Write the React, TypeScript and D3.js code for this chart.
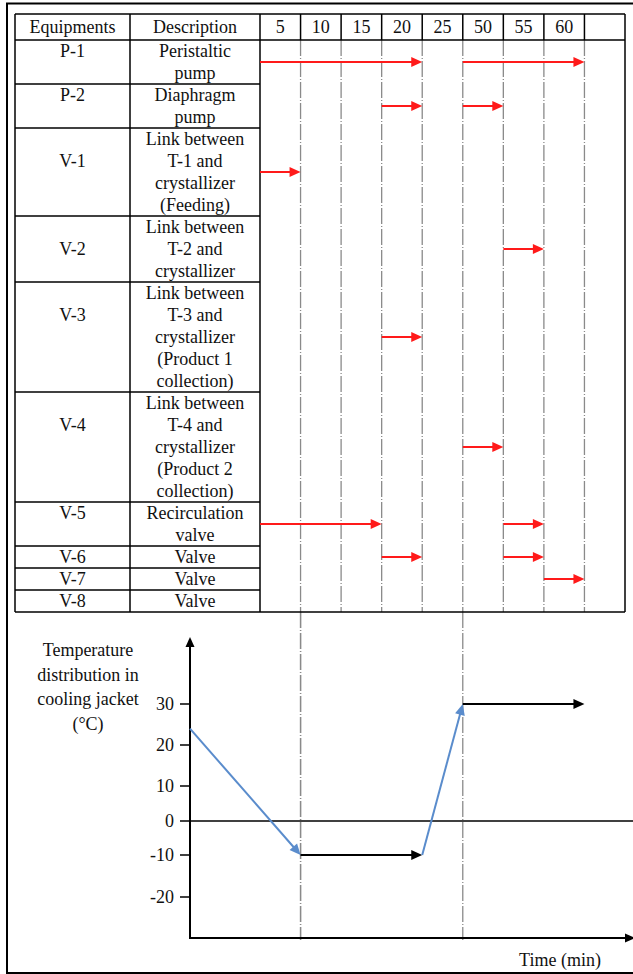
import React from "react";
import * as d3 from "d3";

// ---------- data ----------
const timeLabels = ["5", "10", "15", "20", "25", "50", "55", "60", ""];
const headerLabels = ["Equipments", "Description"];
const equipments = ["P-1", "P-2", "V-1", "V-2", "V-3", "V-4", "V-5", "V-6", "V-7", "V-8"];
const descriptions = [
  ["Peristaltic", "pump"],
  ["Diaphragm", "pump"],
  ["Link between", "T-1 and", "crystallizer", "(Feeding)"],
  ["Link between", "T-2 and", "crystallizer"],
  ["Link between", "T-3 and", "crystallizer", "(Product 1", "collection)"],
  ["Link between", "T-4 and", "crystallizer", "(Product 2", "collection)"],
  ["Recirculation", "valve"],
  ["Valve"],
  ["Valve"],
  ["Valve"],
];
// operating periods: from the start of column `from` to the end of column `to`
const operations = [
  { eq: "P-1", from: "5", to: "20" },
  { eq: "P-1", from: "50", to: "60" },
  { eq: "P-2", from: "20", to: "20" },
  { eq: "P-2", from: "50", to: "50" },
  { eq: "V-1", from: "5", to: "5" },
  { eq: "V-2", from: "55", to: "55" },
  { eq: "V-3", from: "20", to: "20" },
  { eq: "V-4", from: "50", to: "50" },
  { eq: "V-5", from: "5", to: "15" },
  { eq: "V-5", from: "55", to: "55" },
  { eq: "V-6", from: "20", to: "20" },
  { eq: "V-6", from: "55", to: "55" },
  { eq: "V-7", from: "60", to: "60" },
];
const tempTicks = [30, 20, 10, 0, -10, -20];
// temperature profile segments: start (null = at the axis) and end column boundaries
const tempProfile = [
  { from: null, to: "5", t0: 24, t1: -10, kind: "ramp" },
  { from: "5", to: "20", t0: -10, t1: -10, kind: "hold" },
  { from: "20", to: "25", t0: -10, t1: 30, kind: "ramp" },
  { from: "25", to: "60", t0: 30, t1: 30, kind: "hold" },
];
const yLabelLines = ["Temperature", "distribution in", "cooling jacket", "(°C)"];
const xTitle = "Time (min)";

// ---------- layout ----------
const W = 633;
const H = 974;
const tableLeft = 15;
const col1 = 130;
const col2 = 260;
const tableRight = 625;
const headerTop = 14;
const headerBottom = 40;
const lineH = 22;
const axisX = 190;
const axisBottom = 938;
const axisTop = 637;
const FONT = "'Liberation Serif', 'Times New Roman', serif";
const RED = "#ff1a1a";
const BLUE = "#5a8ccc";
const GRID = "#8a8a8a";

function arrow(x1: number, y1: number, x2: number, y2: number, len: number, hw: number) {
  const dx = x2 - x1;
  const dy = y2 - y1;
  const L = Math.hypot(dx, dy);
  const ux = dx / L;
  const uy = dy / L;
  const bx = x2 - ux * len;
  const by = y2 - uy * len;
  const px = -uy;
  const py = ux;
  const pts = [
    [x2, y2],
    [bx + px * hw, by + py * hw],
    [bx - px * hw, by - py * hw],
  ];
  return { lx: bx + ux * 1, ly: by + uy * 1, poly: pts.map((p) => p.join(",")).join(" ") };
}

export default function App() {
  const x = d3.scaleBand<string>().domain(timeLabels).range([col2, tableRight]).paddingInner(0).paddingOuter(0);
  const bw = x.bandwidth();
  const colStart = (l: string) => x(l) as number;
  const colEnd = (l: string) => (x(l) as number) + bw;

  // row layout
  const rowTops: number[] = [];
  let acc = headerBottom;
  descriptions.forEach((d) => {
    rowTops.push(acc);
    acc += d.length * lineH;
  });
  const tableBottom = acc;
  const rowIndex = (eq: string) => equipments.indexOf(eq);
  const rowMid = (i: number) => rowTops[i] + (descriptions[i].length * lineH) / 2;

  const y = d3
    .scaleLinear()
    .domain([-20, -10, 0, 10, 20, 30])
    .range([897, 855, 821, 786, 745, 704]);

  const textProps = { fontFamily: FONT, fontSize: 18, fill: "#111" };

  const chartDashX = tempProfile.filter((s) => s.kind === "ramp").map((s) => colEnd(s.to));

  return (
    <svg
      width={W}
      height={H}
      style={{ position: "fixed", left: 0, top: 0, background: "#fff" }}
      viewBox={`0 0 ${W} ${H}`}
    >
      <rect x={0} y={0} width={W} height={H} fill="#fff" />
      {/* outer frame */}
      <rect x={7} y={3.5} width={W + 20} height={969.5} fill="none" stroke="#000" strokeWidth={2} />

      {/* table grid: dashed time dividers */}
      {timeLabels.slice(1).map((l) => (
        <line
          key={"td" + l}
          x1={colStart(l)}
          x2={colStart(l)}
          y1={headerBottom}
          y2={tableBottom}
          stroke={GRID}
          strokeWidth={1.3}
          strokeDasharray="16,2,1,2"
        />
      ))}
      {/* dashed lines into chart */}
      {chartDashX.concat([colEnd("5")]).map((xx, i) => (
        <line
          key={"cd" + i}
          x1={xx}
          x2={xx}
          y1={tableBottom}
          y2={axisBottom + 2}
          stroke={GRID}
          strokeWidth={1.3}
          strokeDasharray="16,2,1,2"
        />
      ))}

      {/* header */}
      <line x1={tableLeft} x2={tableRight} y1={headerTop} y2={headerTop} stroke="#000" strokeWidth={1.5} />
      <line x1={tableLeft} x2={tableRight} y1={headerBottom} y2={headerBottom} stroke="#000" strokeWidth={1.5} />
      {timeLabels.slice(1).map((l) => (
        <line key={"hd" + l} x1={colStart(l)} x2={colStart(l)} y1={headerTop} y2={headerBottom} stroke="#000" strokeWidth={1.5} />
      ))}
      <text x={(tableLeft + col1) / 2} y={(headerTop + headerBottom) / 2 + 6} textAnchor="middle" {...textProps}>
        {headerLabels[0]}
      </text>
      <text x={(col1 + col2) / 2} y={(headerTop + headerBottom) / 2 + 6} textAnchor="middle" {...textProps}>
        {headerLabels[1]}
      </text>
      {timeLabels.map((l) => (
        <text key={"h" + l} x={colStart(l) + bw / 2} y={(headerTop + headerBottom) / 2 + 6} textAnchor="middle" {...textProps}>
          {l}
        </text>
      ))}

      {/* table outer & column borders */}
      {[tableLeft, col1, col2, tableRight].map((xx) => (
        <line key={"vb" + xx} x1={xx} x2={xx} y1={headerTop} y2={tableBottom} stroke="#000" strokeWidth={1.5} />
      ))}
      <line x1={tableLeft} x2={tableRight} y1={tableBottom} y2={tableBottom} stroke="#000" strokeWidth={1.5} />
      {rowTops.slice(1).map((t, i) => (
        <line key={"rl" + i} x1={tableLeft} x2={col2} y1={t} y2={t} stroke="#000" strokeWidth={1.5} />
      ))}

      {/* row texts */}
      {equipments.map((eq, i) => {
        const lines = descriptions[i];
        const labelLine = lines.length >= 3 ? 1 : 0;
        return (
          <g key={"row" + eq}>
            <text x={(tableLeft + col1) / 2} y={rowTops[i] + labelLine * lineH + lineH / 2 + 6} textAnchor="middle" {...textProps}>
              {eq}
            </text>
            {lines.map((ln, j) => (
              <text key={j} x={(col1 + col2) / 2} y={rowTops[i] + j * lineH + lineH / 2 + 6} textAnchor="middle" {...textProps}>
                {ln}
              </text>
            ))}
          </g>
        );
      })}

      {/* operation arrows */}
      {operations.map((op, k) => {
        const i = rowIndex(op.eq);
        const yy = rowMid(i);
        const x1 = colStart(op.from);
        const x2 = colEnd(op.to);
        const a = arrow(x1, yy, x2, yy, 11, 5);
        return (
          <g key={"op" + k}>
            <line x1={x1} x2={a.lx} y1={yy} y2={yy} stroke={RED} strokeWidth={2} />
            <polygon points={a.poly} fill={RED} />
          </g>
        );
      })}

      {/* chart axes */}
      <line x1={axisX} x2={axisX} y1={axisBottom} y2={axisTop + 9} stroke="#000" strokeWidth={2} />
      <polygon points={arrow(axisX, axisBottom, axisX, axisTop, 10, 4.5).poly} fill="#000" />
      <line x1={axisX - 1} x2={W - 5} y1={axisBottom} y2={axisBottom} stroke="#000" strokeWidth={2} />
      <polygon points={arrow(axisX, axisBottom, W + 2, axisBottom, 10, 4.5).poly} fill="#000" />
      <line x1={180} x2={W} y1={y(0)} y2={y(0)} stroke="#000" strokeWidth={1.5} />
      {tempTicks.map((t) => (
        <g key={"t" + t}>
          {t !== 0 && <line x1={180} x2={axisX} y1={y(t)} y2={y(t)} stroke="#000" strokeWidth={1.5} />}
          <text x={174} y={y(t) + 6} textAnchor="end" {...textProps}>
            {t}
          </text>
        </g>
      ))}

      {/* temperature profile */}
      {tempProfile.map((s, k) => {
        const x1 = s.from === null ? axisX : colEnd(s.from);
        const x2 = colEnd(s.to);
        const y1 = y(s.t0);
        const y2 = y(s.t1);
        const c = s.kind === "ramp" ? BLUE : "#000";
        const a = arrow(x1, y1, x2, y2, 11, 5);
        return (
          <g key={"seg" + k}>
            <line x1={x1} y1={y1} x2={a.lx} y2={a.ly} stroke={c} strokeWidth={2} />
            <polygon points={a.poly} fill={c} />
          </g>
        );
      })}

      {/* chart labels */}
      {yLabelLines.map((l, i) => (
        <text key={"yl" + i} x={88} y={650 + i * 24.7 + 6} textAnchor="middle" {...textProps}>
          {l}
        </text>
      ))}
      <text x={560} y={966} textAnchor="middle" {...textProps}>
        {xTitle}
      </text>
    </svg>
  );
}
